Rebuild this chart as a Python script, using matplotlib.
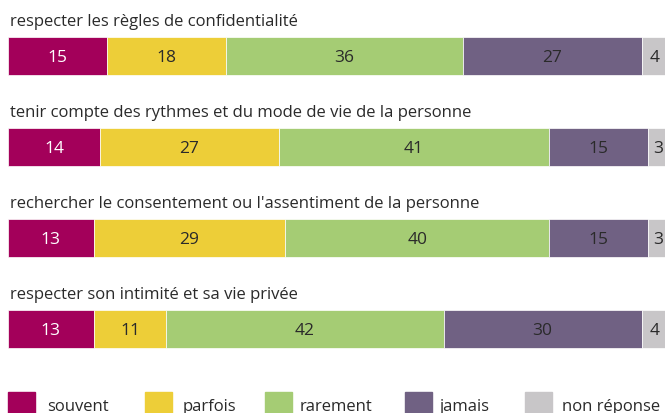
import matplotlib.pyplot as plt
import numpy as np
from matplotlib.patches import Rectangle

plt.rcParams['font.family'] = ['Open Sans', 'DejaVu Sans']

items = [
    "respecter les règles de confidentialité",
    "tenir compte des rythmes et du mode de vie de la personne",
    "rechercher le consentement ou l'assentiment de la personne",
    "respecter son intimité et sa vie privée",
]
series = ["souvent", "parfois", "rarement", "jamais", "non réponse"]
souvent = [15, 14, 13, 13]
parfois = [18, 27, 29, 11]
rarement = [36, 41, 40, 42]
jamais = [27, 15, 15, 30]
non_reponse = [4, 3, 3, 4]
values = [souvent, parfois, rarement, jamais, non_reponse]

colors = ["#A3005A", "#EDCE38", "#A5CC74", "#706183", "#C8C6C8"]
text_colors = ["white", "#2a2a2a", "#2a2a2a", "#2a2a2a", "#2a2a2a"]

W, H = 665, 414
fig = plt.figure(figsize=(W / 100, H / 100), dpi=100)
ax = fig.add_axes([8 / W, 0, 660 / W, 1])
ax.set_xlim(0, 100)
# rows are 91 px apart, first bar centred at 57 px from top
ax.set_ylim((H - 57) / 91, -57 / 91)
ax.axis("off")

y = np.arange(len(items))
left = np.zeros(len(items))
for vals, c, tc in zip(values, colors, text_colors):
    vals = np.array(vals)
    ax.barh(y, vals, left=left, height=0.42, color=c, edgecolor="white", linewidth=0.5)
    for yi, l, v in zip(y, left, vals):
        ax.text(l + v / 2, yi + 0.01, str(v), ha="center", va="center",
                fontsize=12.5, color=tc)
    left += vals

for yi, label in zip(y, items):
    ax.text(0.25, yi - 0.39, label, ha="left", va="center", fontsize=12,
            color="#2a2a2a")

# legend
sq_x = [8, 145, 265, 405, 525]
tx_x = [47, 183, 300, 440, 562]
for sx, tx, c, s in zip(sq_x, tx_x, colors, series):
    fig.patches.append(Rectangle((sx / W, 0), 27 / W, 21 / H, color=c,
                                 transform=fig.transFigure, figure=fig))
    fig.text(tx / W, 7 / H, s, ha="left", va="center", fontsize=12,
             color="#2a2a2a")

fig.savefig("out.png", dpi=100)
